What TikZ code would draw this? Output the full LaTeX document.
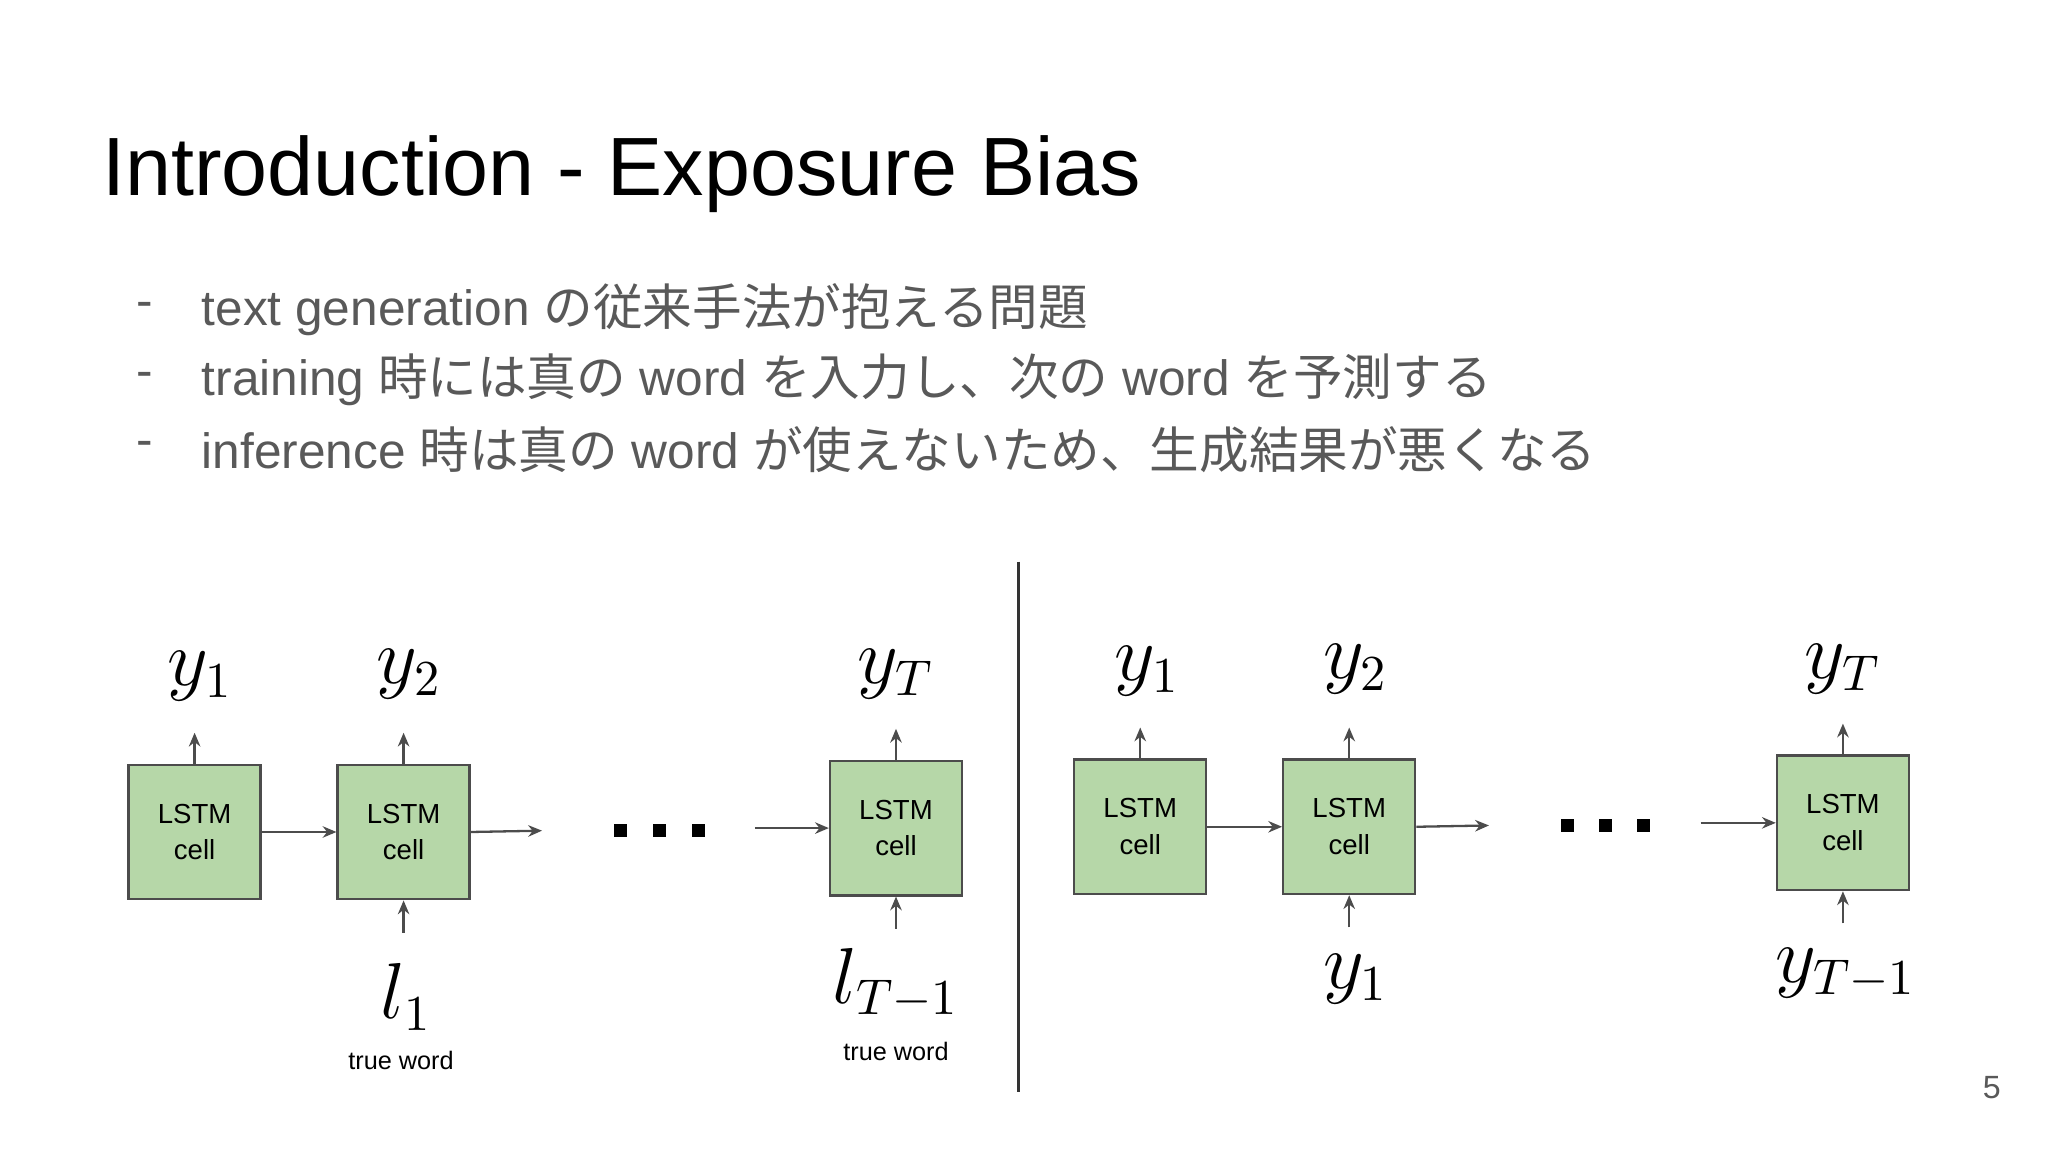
\documentclass[tikz,border=0pt]{standalone}
\usepackage{fontspec}
\setmainfont{Liberation Sans}
\newfontfamily\cjk{Noto Sans CJK JP}
\usetikzlibrary{arrows.meta}
\definecolor{cellgreen}{HTML}{B6D7A8}
\definecolor{bulletgray}{HTML}{595959}
\begin{document}
\begin{tikzpicture}[x=0.01cm,y=-0.01cm,
  cellbox/.style={draw=black!70,fill=cellgreen,minimum width=1.01cm,minimum height=1.03cm,inner sep=0pt,align=center,font=\fontsize{6}{8}\selectfont,line width=0.5pt},
  arr/.style={-{Stealth[length=3pt,width=2.5pt]},draw=black!70,line width=0.5pt},
  mathlbl/.style={font=\fontsize{16}{18}\selectfont},
  bul/.style={anchor=west,text=bulletgray,font=\fontsize{10.8}{13}\selectfont},
  small/.style={font=\fontsize{5.5}{7}\selectfont}]
\useasboundingbox (0,0) rectangle (1568,882);
\node[anchor=base west,font=\fontsize{18}{22}\selectfont] (title) at (66,150) {Introduction - Exposure Bias};
\node[bul] (d1) at (92,237) {-};
\node[bul] (d2) at (92,291) {-};
\node[bul] (d3) at (92,344) {-};
\node[bul] (b1) at (142,237) {text generation {\cjk の従来手法が抱える問題}};
\node[bul] (b2) at (142,291) {training {\cjk 時には真の} word {\cjk を入力し、次の} word {\cjk を予測する}};
\node[bul] (b3) at (142,344) {inference {\cjk 時は真の} word {\cjk が使えないため、生成結果が悪くなる}};
% left
\node[cellbox] (c1) at (149,637) {LSTM\\cell};
\node[cellbox] (c2) at (309,637) {LSTM\\cell};
\node[cellbox] (c3) at (686,634) {LSTM\\cell};
\node[mathlbl] (o1) at (153,518) {$y_1$};
\node[mathlbl] (o2) at (313,516) {$y_2$};
\node[mathlbl] (o3) at (686,516) {$y_T$};
\node[mathlbl] (i2) at (311,763) {$l_1$};
\node[mathlbl] (i3) at (686,753) {$l_{T-1}$};
\node[small] (t2) at (307,812) {true word};
\node[small] (t3) at (686,805) {true word};
\coordinate (o1a) at (149,561); \coordinate (o2a) at (309,561); \coordinate (o3a) at (686,558);
\coordinate (i2a) at (309,714); \coordinate (i3a) at (686,711);
\draw[arr] (c1.north) -- (o1a);
\draw[arr] (c2.north) -- (o2a);
\draw[arr] (c3.north) -- (o3a);
\draw[arr] (i2a) -- (c2.south);
\draw[arr] (i3a) -- (c3.south);
\draw[arr] (c1.east) -- (c2.west);
\coordinate (e2) at (415,636);
\draw[arr] (c2.east) -- (e2);
\coordinate (s3) at (578,634);
\draw[arr] (s3) -- (c3.west);
\foreach \x in {475,505,535} \fill (\x-5,631) rectangle (\x+5,641);
% divider
\coordinate (v1) at (780,430); \coordinate (v2) at (780,836);
\draw[black!80,line width=0.6pt] (v1) -- (v2);
% right
\node[cellbox] (r1) at (873,633) {LSTM\\cell};
\node[cellbox] (r2) at (1033,633) {LSTM\\cell};
\node[cellbox] (r3) at (1411,630) {LSTM\\cell};
\node[mathlbl] (p1) at (878,514) {$y_1$};
\node[mathlbl] (p2) at (1038,512) {$y_2$};
\node[mathlbl] (p3) at (1411,512) {$y_T$};
\node[mathlbl] (q2) at (1038,750) {$y_1$};
\node[mathlbl] (q3) at (1413,745) {$y_{T-1}$};
\coordinate (p1a) at (873,557); \coordinate (p2a) at (1033,557); \coordinate (p3a) at (1411,554);
\coordinate (q2a) at (1033,710); \coordinate (q3a) at (1411,707);
\draw[arr] (r1.north) -- (p1a);
\draw[arr] (r2.north) -- (p2a);
\draw[arr] (r3.north) -- (p3a);
\draw[arr] (q2a) -- (r2.south);
\draw[arr] (q3a) -- (r3.south);
\draw[arr] (r1.east) -- (r2.west);
\coordinate (f2) at (1140,632);
\draw[arr] (r2.east) -- (f2);
\coordinate (g3) at (1302,630);
\draw[arr] (g3) -- (r3.west);
\foreach \x in {1200,1229,1258} \fill (\x-5,627) rectangle (\x+5,637);
\node[text=bulletgray,font=\fontsize{7}{8}\selectfont] (pg) at (1525,833) {5};
\end{tikzpicture}
\end{document}
